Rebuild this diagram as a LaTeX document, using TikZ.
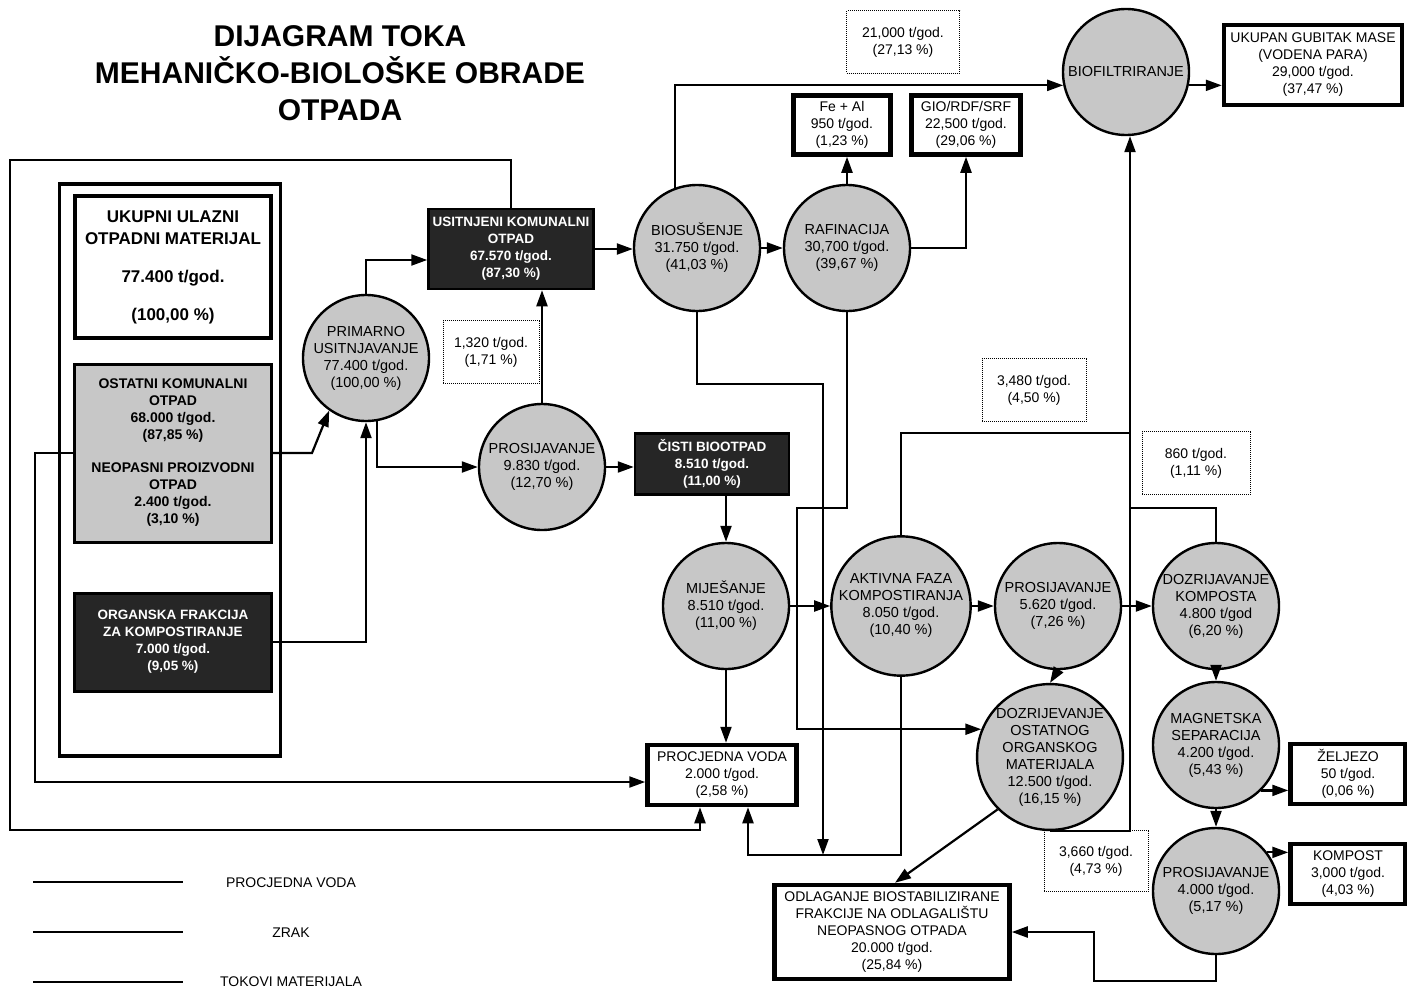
\documentclass[tikz,border=0pt]{standalone}
\usepackage{fontspec}
\setmainfont{Liberation Sans}
\usetikzlibrary{arrows.meta}

\begin{document}
\begin{tikzpicture}[x=1pt,y=-1pt,>={Triangle[length=16pt,width=11pt]},
  every node/.style={font=\fontsize{14}{17}\selectfont,align=center},
  line/.style={line width=2.2pt},
  flow/.style={line width=2.2pt,->},
  proc/.style={circle,draw,line width=2.4pt,fill=black!22,minimum size=126pt,inner sep=0pt,font=\fontsize{14.5}{17}\selectfont},
  endbox/.style={draw,line width=4.5pt,fill=white,inner sep=2pt},
  darkbox/.style={draw,line width=2.5pt,fill=black!85,text=white,font=\bfseries\fontsize{13.5}{17}\selectfont},
  amount/.style={draw,densely dotted,line width=1pt}]
  \useasboundingbox (0,0) rectangle (1407,990);

  \node[font=\bfseries\fontsize{30}{37}\selectfont] (naslov) at (340,73) {DIJAGRAM TOKA\\MEHANIČKO-BIOLOŠKE OBRADE\\OTPADA};

  \node[draw,line width=3.5pt,minimum width=221pt,minimum height=572pt] (ulaz) at (170,470) {};
  \node[endbox,line width=4pt,minimum width=196pt,minimum height=142pt,font=\bfseries\fontsize{17}{22}\selectfont] (ukupno) at (173,267) {UKUPNI ULAZNI\\OTPADNI MATERIJAL\\[16pt]77.400 t/god.\\[16pt](100,00 \%)};
  \node[draw,line width=3pt,fill=black!22,minimum width=197pt,minimum height=178pt,font=\bfseries\fontsize{14}{17}\selectfont] (ostatni) at (173,453) {OSTATNI KOMUNALNI\\OTPAD\\68.000 t/god.\\(87,85 \%)\\[16pt]NEOPASNI PROIZVODNI\\OTPAD\\2.400 t/god.\\(3,10 \%)};
  \node[darkbox,line width=3pt,minimum width=197pt,minimum height=98pt] (organska) at (173,642) {ORGANSKA FRAKCIJA\\ZA KOMPOSTIRANJE\\7.000 t/god.\\(9,05 \%)};

  \node[proc] (primarno) at (366,358) {PRIMARNO\\USITNJAVANJE\\77.400 t/god.\\(100,00 \%)};
  \node[darkbox,minimum width=165pt,minimum height=80pt] (usitnjeni) at (511,249) {USITNJENI KOMUNALNI\\OTPAD\\67.570 t/god.\\(87,30 \%)};
  \node[amount,minimum width=96pt,minimum height=63pt] (iznos1) at (491,352) {1,320 t/god.\\(1,71 \%)};
  \node[proc] (pros1) at (542,467) {PROSIJAVANJE\\9.830 t/god.\\(12,70 \%)};
  \node[darkbox,minimum width=154pt,minimum height=61pt] (cisti) at (712,464) {ČISTI BIOOTPAD\\8.510 t/god.\\(11,00 \%)};

  \node[proc] (biosusenje) at (697,248) {BIOSUŠENJE\\31.750 t/god.\\(41,03 \%)};
  \node[proc] (rafinacija) at (847,248) {RAFINACIJA\\30,700 t/god.\\(39,67 \%)};
  \node[endbox,minimum width=97pt,minimum height=59pt] (feal) at (842,125) {Fe + Al\\950 t/god.\\(1,23 \%)};
  \node[endbox,minimum width=109pt,minimum height=59pt] (gio) at (966,125) {GIO/RDF/SRF\\22,500 t/god.\\(29,06 \%)};
  \node[amount,minimum width=113pt,minimum height=62pt] (iznos2) at (903,42) {21,000 t/god.\\(27,13 \%)};
  \node[proc] (biofilt) at (1126,72) {BIOFILTRIRANJE};
  \node[endbox,minimum width=178pt,minimum height=80pt] (ukupan) at (1313,65) {UKUPAN GUBITAK MASE\\(VODENA PARA)\\29,000 t/god.\\(37,47 \%)};

  \node[proc] (mijesanje) at (726,606) {MIJEŠANJE\\8.510 t/god.\\(11,00 \%)};
  \node[proc,minimum size=132pt] (aktivna) at (901,606) {AKTIVNA FAZA\\KOMPOSTIRANJA\\8.050 t/god.\\(10,40 \%)};
  \node[amount,minimum width=104pt,minimum height=63pt] (iznos3) at (1034,390) {3,480 t/god.\\(4,50 \%)};
  \node[proc] (pros2) at (1058,606) {PROSIJAVANJE\\5.620 t/god.\\(7,26 \%)};
  \node[proc] (dozkomp) at (1216,606) {DOZRIJAVANJE\\KOMPOSTA\\4.800 t/god\\(6,20 \%)};
  \node[amount,minimum width=108pt,minimum height=63pt] (iznos4) at (1196,463) {860 t/god.\\(1,11 \%)};
  \node[proc] (magnetska) at (1216,745) {MAGNETSKA\\SEPARACIJA\\4.200 t/god.\\(5,43 \%)};
  \node[endbox,minimum width=115pt,minimum height=60pt] (zeljezo) at (1348,774) {ŽELJEZO\\50 t/god.\\(0,06 \%)};
  \node[proc] (pros3) at (1216,891) {PROSIJAVANJE\\4.000 t/god.\\(5,17 \%)};
  \node[endbox,minimum width=115pt,minimum height=60pt] (kompost) at (1348,874) {KOMPOST\\3,000 t/god.\\(4,03 \%)};
  \node[amount,minimum width=104pt,minimum height=61pt] (iznos5) at (1096,861) {3,660 t/god.\\(4,73 \%)};
  \node[proc,minimum size=132pt] (dozost) at (1050,757) {DOZRIJEVANJE\\OSTATNOG\\ORGANSKOG\\MATERIJALA\\12.500 t/god.\\(16,15 \%)};
  \node[endbox,minimum width=149pt,minimum height=60pt] (procjedna) at (722,775) {PROCJEDNA VODA\\2.000 t/god.\\(2,58 \%)};
  \node[endbox,minimum width=235pt,minimum height=94pt] (odlaganje) at (892,932) {ODLAGANJE BIOSTABILIZIRANE\\FRAKCIJE NA ODLAGALIŠTU\\NEOPASNOG OTPADA\\20.000 t/god.\\(25,84 \%)};

  \coordinate (okvirgore) at (10,160);
  \coordinate (okvirdolje) at (10,830);
  \coordinate (spoj) at (823,855);
  \coordinate (zrak1) at (1130,433);
  \coordinate (zrak2) at (1130,508);

  \draw[flow] (ostatni.east) -- ++(39,0) -- (primarno.235);
  \draw[flow] (organska.east) -| (primarno.south);
  \draw[flow] (primarno.north) |- ([yshift=-11pt]usitnjeni.west);
  \draw[flow] (primarno.-80) |- (pros1.west);
  \draw[flow] (pros1.north) -- (pros1.north |- usitnjeni.south);
  \draw[flow] (pros1.east) -- (pros1.east -| cisti.west);
  \draw[flow] (mijesanje.north |- cisti.south) -- (mijesanje.north);
  \draw[flow] (usitnjeni.east) -- (usitnjeni.east -| biosusenje.west);
  \draw[flow] (biosusenje.east) -- (rafinacija.west);
  \draw[flow] (rafinacija.north) -- (rafinacija.north |- feal.south);
  \draw[flow] (rafinacija.east) -| (gio.south);
  \draw[flow] (biosusenje.110) |- (biofilt.192);
  \draw[flow] (biofilt.-12) -- (biofilt.-12 -| ukupan.west);
  \draw[flow] (usitnjeni.north) |- (okvirgore) -- (okvirdolje) -| ([xshift=-22pt]procjedna.south);
  \draw[flow] (ostatni.west) -- ++(-38,0) |- ([yshift=-7pt]procjedna.west);
  \draw[flow] (biosusenje.south) -- ++(0,72) -| (spoj);
  \draw[flow] (aktivna.south) |- (spoj) -| ([xshift=26pt]procjedna.south);
  \draw[flow] (rafinacija.south) -- ++(0,196) -- ++(-50,0) |- (dozost.158);
  \draw[flow] (mijesanje.south) -- (mijesanje.south |- procjedna.north);
  \draw[flow] (mijesanje.east) -- (aktivna.west);
  \draw[flow] (aktivna.east) -- (pros2.west);
  \draw[line] (aktivna.north) |- (zrak1);
  \draw[line] (dozkomp.north) |- (zrak2);
  \draw[flow] (dozost.south) -| ([xshift=4pt]biofilt.south);
  \draw[flow] (pros2.east) -- (dozkomp.west);
  \draw[flow] (pros2.south) -- (dozost.north);
  \draw[flow] (dozkomp.south) -- (magnetska.north);
  \draw[flow] (magnetska.-45) -- (magnetska.-45 -| zeljezo.west);
  \draw[flow] (magnetska.south) -- (pros3.north);
  \draw[flow] (pros3.37) -- (pros3.37 -| kompost.west);
  \draw[flow] (pros3.south) -- ++(0,26) -- ++(-122,0) |- (odlaganje.east);
  \draw[flow] (dozost.225) -- ([xshift=3pt]odlaganje.north);

  \draw[line] (33,882) -- (183,882);
  \draw[line] (33,932) -- (183,932);
  \draw[line] (33,982) -- (183,982);
  \node (legvoda) at (291,883) {PROCJEDNA VODA};
  \node (legzrak) at (291,933) {ZRAK};
  \node (legtok) at (291,982) {TOKOVI MATERIJALA};
\end{tikzpicture}
\end{document}
